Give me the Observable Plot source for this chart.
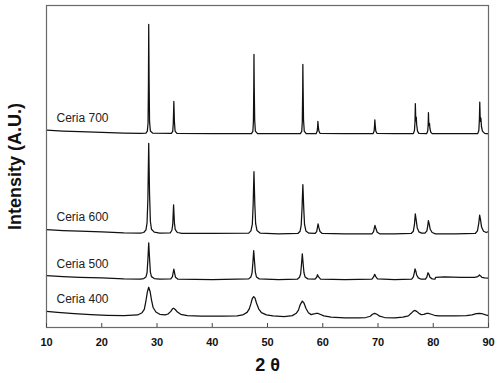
<!DOCTYPE html>
<html>
<head>
<meta charset="utf-8">
<script src="https://cdn.jsdelivr.net/npm/d3@7"></script>
<script src="https://cdn.jsdelivr.net/npm/@observablehq/plot@0.6"></script>
<style>
  html, body { margin: 0; padding: 0; background: #fff; }
</style>
</head>
<body>
<div id="chart"></div>
<script>
const xTicks = [10, 20, 30, 40, 50, 60, 70, 80, 90];
const sampleNames = ["Ceria 400", "Ceria 500", "Ceria 600", "Ceria 700"];

// [2θ, intensity (a.u., stacked as drawn)]
const ceria400 = [
  [10, 5.0], [12, 4.7], [15, 4.3], [18, 4.0], [21, 3.8], [24, 3.7], [26.5, 3.9],
  [27.3, 4.6], [27.7, 5.6], [28.0, 8.3], [28.25, 11.0], [28.5, 12.5], [28.75, 11.2], [29.0, 8.6],
  [29.3, 6.2], [29.8, 4.8], [30.5, 4.1], [31.5, 3.9], [32.0, 4.2], [32.5, 5.0], [32.8, 5.8],
  [33.0, 6.0], [33.3, 5.6], [33.7, 4.8], [34.3, 4.1], [35.5, 3.7], [38, 3.5], [42, 3.5],
  [44.5, 3.6], [45.5, 3.9], [46.3, 4.7], [46.7, 5.8], [47.0, 7.4], [47.25, 9.0], [47.5, 9.6],
  [47.75, 9.1], [48.0, 7.6], [48.4, 5.8], [48.9, 4.6], [49.8, 3.9], [51, 3.6], [53, 3.4],
  [54.5, 3.7], [55.2, 4.4], [55.6, 5.4], [55.95, 7.2], [56.3, 8.2], [56.6, 7.6], [56.95, 6.0],
  [57.4, 4.6], [57.9, 4.0], [58.4, 4.2], [58.8, 4.4], [59.1, 4.4], [59.5, 4.1], [60.2, 3.6],
  [61.5, 3.2], [64, 3.0], [66.5, 3.0], [67.8, 3.1], [68.6, 3.5], [69.0, 4.1], [69.4, 4.4],
  [69.8, 4.1], [70.3, 3.5], [71.2, 3.1], [73, 3.0], [74.5, 3.2], [75.5, 3.6], [76.0, 4.4],
  [76.4, 5.1], [76.7, 5.3], [77.0, 5.0], [77.4, 4.4], [77.8, 4.0], [78.3, 4.1], [78.8, 4.4],
  [79.1, 4.4], [79.5, 4.2], [80.2, 3.8], [81, 3.6], [84, 3.6], [86, 3.7], [87.0, 3.9],
  [87.8, 4.3], [88.4, 4.4], [89.0, 4.2], [89.5, 3.9], [90, 3.7]
];

const ceria500 = [
  [10, 16.1], [13, 15.8], [16, 15.6], [20, 15.4], [24, 15.1], [27, 15.0], [27.6, 15.2],
  [28.0, 15.7], [28.2, 17.0], [28.35, 21.0], [28.5, 26.3], [28.65, 21.5], [28.8, 17.2], [29.0, 15.8],
  [29.5, 15.2], [30.5, 15.0], [32.5, 15.1], [32.8, 15.8], [32.9, 16.8], [33.05, 18.1], [33.2, 16.8],
  [33.35, 15.6], [33.8, 15.0], [40, 14.9], [46.6, 15.1], [47.0, 15.7], [47.2, 16.9], [47.35, 20.0],
  [47.5, 23.9], [47.65, 20.5], [47.8, 17.2], [48.0, 15.7], [48.5, 15.1], [52, 14.9], [55.4, 15.0],
  [55.8, 15.6], [56.0, 16.7], [56.15, 19.5], [56.3, 22.9], [56.45, 19.8], [56.6, 17.0], [56.8, 15.7],
  [57.3, 15.1], [58.6, 15.0], [58.9, 15.6], [59.05, 16.4], [59.25, 15.7], [59.6, 15.0], [64, 14.9],
  [68.9, 15.0], [69.2, 15.7], [69.4, 16.5], [69.6, 15.8], [69.9, 15.1], [73, 14.9], [76.1, 15.0],
  [76.4, 15.7], [76.6, 17.2], [76.7, 18.2], [76.85, 17.5], [77.0, 16.3], [77.3, 15.4], [77.8, 15.0],
  [78.6, 15.0], [78.85, 15.7], [79.05, 17.0], [79.2, 16.6], [79.4, 15.6], [79.8, 15.1], [80.3, 15.0],
  [80.45, 15.6], [82, 15.7], [85, 15.6], [87.5, 15.6], [87.9, 15.7], [88.2, 16.0], [88.35, 16.3],
  [88.5, 16.1], [88.8, 15.6], [89.3, 15.4], [90, 15.3]
];

const ceria600 = [
  [10, 30.4], [13, 30.1], [16, 29.9], [20, 29.7], [24, 29.4], [27, 29.3], [27.6, 29.5],
  [28.0, 30.3], [28.2, 32.5], [28.35, 40.0], [28.5, 57.2], [28.65, 41.5], [28.8, 33.0], [29.0, 30.5],
  [29.5, 29.6], [30.5, 29.3], [32.4, 29.4], [32.7, 30.2], [32.85, 32.0], [33.0, 38.1], [33.15, 32.5],
  [33.3, 30.4], [33.7, 29.5], [34.5, 29.2], [40, 29.2], [46.6, 29.3], [47.0, 30.0], [47.25, 32.0],
  [47.4, 38.0], [47.55, 48.4], [47.7, 38.5], [47.85, 32.3], [48.1, 30.1], [48.7, 29.3], [52, 29.1],
  [55.5, 29.2], [55.9, 29.9], [56.1, 31.8], [56.25, 37.0], [56.4, 44.4], [56.55, 37.4], [56.7, 32.0],
  [56.95, 30.0], [57.5, 29.3], [58.6, 29.2], [58.9, 29.8], [59.05, 31.2], [59.15, 32.2], [59.3, 31.0],
  [59.5, 29.8], [59.9, 29.2], [64, 29.1], [68.9, 29.1], [69.2, 29.8], [69.35, 31.0], [69.45, 31.7],
  [69.6, 30.8], [69.85, 29.6], [70.3, 29.1], [73, 29.1], [76.0, 29.2], [76.4, 29.9], [76.6, 32.0],
  [76.75, 35.3], [76.9, 33.5], [77.1, 31.0], [77.4, 29.7], [77.9, 29.3], [78.5, 29.3], [78.85, 30.0],
  [79.0, 31.5], [79.12, 33.2], [79.27, 32.2], [79.45, 30.5], [79.8, 29.5], [80.4, 29.1], [84, 29.1],
  [87.6, 29.2], [88.0, 30.0], [88.25, 32.5], [88.4, 34.9], [88.55, 33.5], [88.75, 31.2], [89.1, 29.9],
  [89.6, 29.5], [90, 29.8]
];

const ceria700 = [
  [10, 61.3], [13, 61.0], [16, 60.8], [20, 60.6], [24, 60.4], [27, 60.3], [28.0, 60.4],
  [28.25, 61.0], [28.38, 63.5], [28.45, 75.0], [28.5, 94.1], [28.57, 77.0], [28.65, 64.0], [28.8, 61.0],
  [29.2, 60.4], [32.6, 60.3], [32.85, 60.9], [32.95, 63.5], [33.05, 70.2], [33.15, 64.0], [33.27, 61.0],
  [33.6, 60.3], [40, 60.2], [47.1, 60.2], [47.35, 60.9], [47.45, 64.0], [47.52, 75.0], [47.55, 84.8],
  [47.6, 75.0], [47.68, 64.5], [47.8, 61.0], [48.2, 60.2], [52, 60.2], [55.95, 60.2], [56.2, 60.9],
  [56.3, 64.0], [56.37, 74.0], [56.4, 81.7], [56.45, 74.0], [56.52, 64.5], [56.65, 61.0], [57.0, 60.2],
  [58.8, 60.2], [59.0, 61.0], [59.08, 62.5], [59.12, 64.0], [59.2, 62.3], [59.3, 61.0], [59.5, 60.3],
  [64, 60.2], [69.1, 60.2], [69.3, 61.0], [69.38, 62.8], [69.43, 64.5], [69.5, 62.8], [69.6, 61.0],
  [69.8, 60.3], [73, 60.2], [76.4, 60.2], [76.6, 61.2], [76.7, 64.0], [76.76, 69.5], [76.82, 65.5],
  [76.88, 64.2], [76.93, 65.3], [77.0, 63.0], [77.15, 61.0], [77.4, 60.3], [78.8, 60.2], [79.0, 61.0],
  [79.08, 63.0], [79.13, 66.7], [79.19, 63.5], [79.26, 62.7], [79.32, 63.4], [79.4, 61.8], [79.55, 60.7],
  [79.8, 60.2], [84, 60.2], [88.05, 60.2], [88.25, 61.2], [88.35, 64.5], [88.42, 70.0], [88.49, 65.5],
  [88.56, 64.0], [88.63, 65.0], [88.72, 62.5], [88.9, 61.0], [89.3, 60.3], [90, 60.1]
];

const seriesValues = [ceria400, ceria500, ceria600, ceria700];

const rows = [];
sampleNames.forEach((name, i) => {
  for (const [theta, intensity] of seriesValues[i]) rows.push({sample: name, theta, intensity});
});
const firstPoints = sampleNames.map((name, i) => ({sample: name, theta: seriesValues[i][0][0], intensity: seriesValues[i][0][1]}));

const chart = Plot.plot({
  width: 499,
  height: 383,
  marginTop: 5,
  marginRight: 11,
  marginBottom: 56,
  marginLeft: 46,
  style: {fontFamily: "'Liberation Sans', Arial, sans-serif", background: "#fff", fontSize: "11px"},
  x: {domain: [10, 90]},
  y: {domain: [0, 100], axis: null},
  marks: [
    Plot.line(rows, {x: "theta", y: "intensity", z: "sample", stroke: "#111", strokeWidth: 1.25, curve: "linear"}),
    Plot.frame({stroke: "#6a6a6a", strokeWidth: 1.2}),
    Plot.tickX(xTicks, {x: d => d, insetTop: 318, stroke: "#444"}),
    Plot.axisX({ticks: xTicks, tickSize: 0, tickPadding: 11, label: null, fontWeight: "bold", fontSize: 11, fill: "#111"}),
    Plot.text(firstPoints, {x: "theta", y: "intensity", text: "sample", dx: 10, dy: -12, textAnchor: "start", lineAnchor: "middle", fontSize: 12, fill: "#222"}),
    Plot.text(["2 θ"], {frameAnchor: "bottom", dy: 38, textAnchor: "middle", lineAnchor: "middle", fontSize: 18, fontWeight: "bold", fill: "#111"}),
    Plot.text(["Intensity (A.U.)"], {frameAnchor: "left", rotate: -90, dx: -31, textAnchor: "middle", lineAnchor: "middle", fontSize: 18, fontWeight: "bold", fill: "#111"})
  ]
});
document.getElementById("chart").appendChild(chart);
</script>
</body>
</html>
